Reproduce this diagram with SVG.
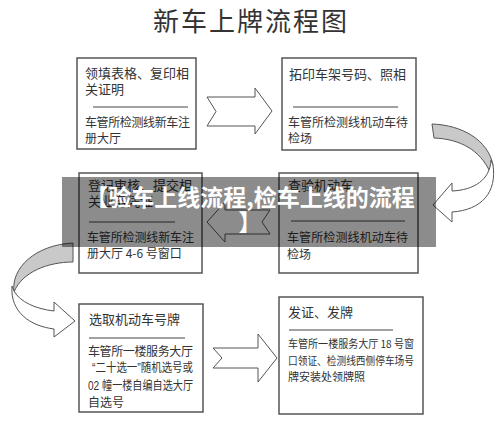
<svg xmlns="http://www.w3.org/2000/svg" width="500" height="425" viewBox="0 0 500 425">
<style>
  .box { fill: #ffffff; stroke: #555555; stroke-width: 1.5; }
  .sep { stroke: #444444; stroke-width: 1; }
  .t13 { font-family: "Noto Sans CJK SC", "Liberation Sans", sans-serif; font-size: 13px; fill: #333333; }
  .t12 { font-family: "Noto Sans CJK SC", "Liberation Sans", sans-serif; font-size: 12px; fill: #333333; }
  .t12q { font-family: "Liberation Sans", "Noto Sans CJK SC", sans-serif; font-size: 12px; fill: #333333; }
  .t11 { font-family: "Noto Sans CJK SC", "Liberation Sans", sans-serif; font-size: 11px; fill: #333333; }
  .arrow { fill: #ffffff; stroke: #555555; stroke-width: 1; stroke-linejoin: miter; }
  .back { fill: #c9c9c9; stroke: #555555; stroke-width: 1; }
  .title { font-family: "Noto Sans CJK SC", "Liberation Sans", sans-serif; font-size: 26px; fill: #333333; letter-spacing: 2px; }
  .banner { font-family: "Noto Sans CJK SC", "Liberation Sans", sans-serif; font-size: 23px; font-weight: bold; fill: #ffffff; }
</style>
<rect width="500" height="425" fill="#ffffff"/>
<text class="title" x="251" y="31" text-anchor="middle">新车上牌流程图</text>

<g id="connectors">
  <path class="arrow" d="M207,97 L255,97 L255,88 L272,111 L255,134 L255,126 L207,126 L216,111.5 Z"/>
  <path class="back" d="M432,124 C462,125 488,140 493,165 L490,172 C480,150 460,139 434,138 Z"/>
  <path class="arrow" d="M491,160 C490,180 474,190 452,191 L452,183 L433,205 L452,222 L452,212 C482,210 497,192 493,165 Z"/>
  <path class="arrow" d="M207,222 L225,202 L225,210 L270,210 L262,222 L270,234 L225,234 L225,242 Z"/>
  <path class="back" d="M73,243 L73,262 C48,262 22,272 14,292 C11,268 35,245 73,243 Z"/>
  <path class="arrow" d="M12,286 C10,312 30,326 54,329 L54,337 L75,321 L54,302 L54,311 C36,309 20,302 14,291 Z"/>
  <path class="arrow" d="M213,348 L258,348 L258,334 L277,358 L258,382 L258,368 L213,368 L222,358 Z"/>
</g>

<g id="node1">
  <rect class="box" x="77" y="58" width="119" height="91"/>
  <text class="t13" x="85" y="77.5">领填表格、复印相</text>
  <text class="t13" x="85" y="93.5">关证明</text>
  <line class="sep" x1="93" y1="107" x2="188" y2="107"/>
  <text class="t12" x="85" y="127" textLength="105">车管所检测线新车注</text>
  <text class="t12" x="85" y="143">册大厅</text>
</g>

<g id="node2">
  <rect class="box" x="282" y="58" width="134" height="92"/>
  <text class="t13" x="289" y="78.5">拓印车架号码、照相</text>
  <line class="sep" x1="293" y1="107" x2="398" y2="107"/>
  <text class="t12" x="288" y="127" textLength="120">车管所检测线机动车待</text>
  <text class="t12" x="288" y="143">检场</text>
</g>

<g id="node3">
  <rect class="box" x="79" y="173" width="123" height="100"/>
  <text class="t13" x="88" y="189.5">登记审核、提交相</text>
  <text class="t13" x="88" y="206">关业务凭证</text>
  <line class="sep" x1="89" y1="222" x2="175" y2="222"/>
  <text class="t12" x="87" y="242" textLength="107">车管所检测线新车注</text>
  <text class="t12" x="87" y="258">册大厅 4-6 号窗口</text>
</g>

<g id="node4">
  <rect class="box" x="279" y="173" width="139" height="100"/>
  <text class="t13" x="288" y="189.5">查验机动车</text>
  <line class="sep" x1="291" y1="221" x2="405" y2="221"/>
  <text class="t12" x="287" y="242" textLength="121">车管所检测线机动车待</text>
  <text class="t12" x="287" y="259">检场</text>
</g>

<g id="node5">
  <rect class="box" x="79" y="304" width="124" height="108"/>
  <text class="t13" x="89" y="323.5">选取机动车号牌</text>
  <line class="sep" x1="89" y1="338" x2="185" y2="338"/>
  <text class="t12" x="88" y="356" textLength="105">车管所一楼服务大厅</text>
  <text class="t12q" x="92" y="372" textLength="101" lengthAdjust="spacingAndGlyphs">“二十选一”随机选号或</text>
  <text class="t12q" x="88" y="390" textLength="105" lengthAdjust="spacingAndGlyphs">02 幢一楼自编自选大厅</text>
  <text class="t12" x="88" y="407">自选号</text>
</g>

<g id="node6">
  <rect class="box" x="279" y="297" width="144" height="117"/>
  <text class="t13" x="288" y="316.5">发证、发牌</text>
  <line class="sep" x1="289" y1="330" x2="393" y2="330"/>
  <text class="t11" x="288" y="348" textLength="126" lengthAdjust="spacingAndGlyphs">车管所一楼服务大厅 18 号窗</text>
  <text class="t11" x="288" y="365" textLength="126" lengthAdjust="spacingAndGlyphs">口领证、检测线西侧停车场号</text>
  <text class="t11" x="288" y="381">牌安装处领牌照</text>
</g>

<g id="overlay">
  <rect x="62" y="177" width="374" height="70" fill="#000000" fill-opacity="0.45"/>
  <text class="banner" x="250" y="206" text-anchor="middle">【验车上线流程,检车上线的流程</text>
  <text class="banner" x="250" y="231" text-anchor="middle">】</text>
</g>
</svg>
